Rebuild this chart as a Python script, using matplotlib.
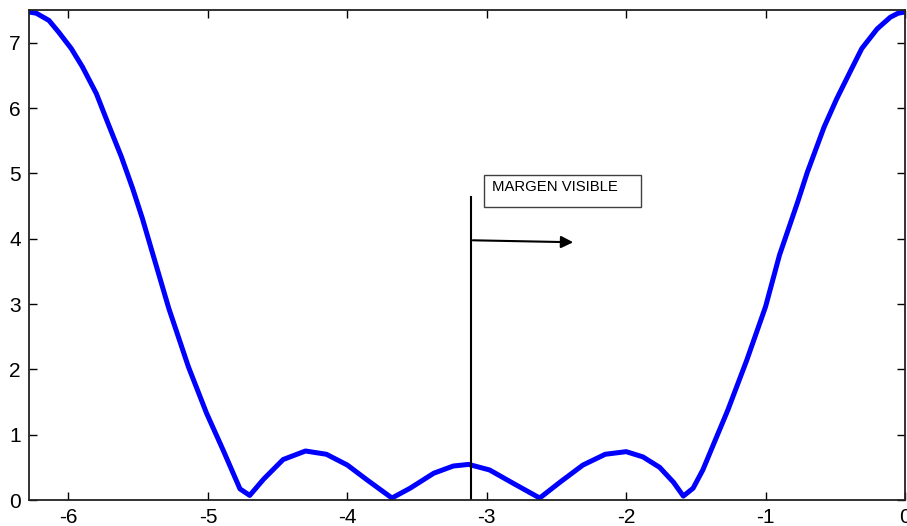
import numpy as np
import matplotlib
matplotlib.use("Agg")
import matplotlib.pyplot as plt
from matplotlib.patches import Rectangle

# Curve samples
x_vals = [-6.2832, -6.23, -6.14, -6.07, -5.98, -5.90, -5.80, -5.71, -5.62, -5.54,
          -5.47, -5.40, -5.28, -5.14, -5.01, -4.89, -4.77, -4.70, -4.60, -4.46,
          -4.30, -4.15, -4.00, -3.86, -3.68, -3.55, -3.38, -3.24, -3.13, -2.98,
          -2.81, -2.62, -2.47, -2.31, -2.15, -2.00, -1.88, -1.76, -1.66,
          -1.59, -1.52, -1.45, -1.37, -1.27, -1.135, -1.00, -0.90, -0.77, -0.70,
          -0.58, -0.49, -0.39, -0.31, -0.20, -0.105, -0.05, 0.0]
y_vals = [7.47, 7.45, 7.34, 7.16, 6.91, 6.63, 6.22, 5.73, 5.25, 4.77,
          4.31, 3.80, 2.93, 2.04, 1.33, 0.76, 0.17, 0.07, 0.32, 0.62,
          0.75, 0.70, 0.535, 0.31, 0.03, 0.18, 0.41, 0.52, 0.545, 0.46,
          0.255, 0.03, 0.28, 0.535, 0.70, 0.74, 0.66, 0.50, 0.27,
          0.06, 0.18, 0.46, 0.87, 1.38, 2.14, 2.96, 3.75, 4.56, 5.02,
          5.71, 6.14, 6.57, 6.91, 7.21, 7.39, 7.45, 7.47]

x_ticks = [-6, -5, -4, -3, -2, -1, 0]
y_ticks = [0, 1, 2, 3, 4, 5, 6, 7]

marker_x = -3.115
marker_top = 4.64
arrow_start = (-3.10, 3.975)
arrow_end = (-2.38, 3.945)
label_text = "MARGEN VISIBLE"

plt.rcParams['font.family'] = ['Liberation Sans', 'DejaVu Sans']

fig = plt.figure(figsize=(9.07, 5.26), dpi=100)
ax = fig.add_axes([29/907, 26/526, 876/907, 490/526])

ax.plot(x_vals, y_vals, color='#0000FF', linewidth=3.6, solid_joinstyle='round')

ax.plot([marker_x, marker_x], [0, marker_top], color='black', linewidth=1.5)
ax.annotate('', xy=arrow_end, xytext=arrow_start,
            arrowprops=dict(arrowstyle='-|>', color='black', lw=1.5,
                            mutation_scale=18, shrinkA=0, shrinkB=0))

box = Rectangle((-3.019, 4.48), 1.126, 0.49, facecolor='white',
                edgecolor='#404040', linewidth=1.0, zorder=3)
ax.add_patch(box)
ax.text(-2.962, 4.79, label_text, fontsize=10.7, ha='left', va='center', zorder=4)

ax.set_xlim(-2*np.pi, 0)
ax.set_ylim(0, 7.5)
ax.set_xticks(x_ticks)
ax.set_yticks(y_ticks)
ax.set_xticklabels([str(t) for t in x_ticks])
ax.set_yticklabels([str(t) for t in y_ticks])
ax.tick_params(direction='in', length=6, width=1.0, top=True, right=True,
               labelsize=15, pad=6)
for s in ax.spines.values():
    s.set_linewidth(1.3)
    s.set_color('#222222')

fig.savefig('out.png', dpi=100)
